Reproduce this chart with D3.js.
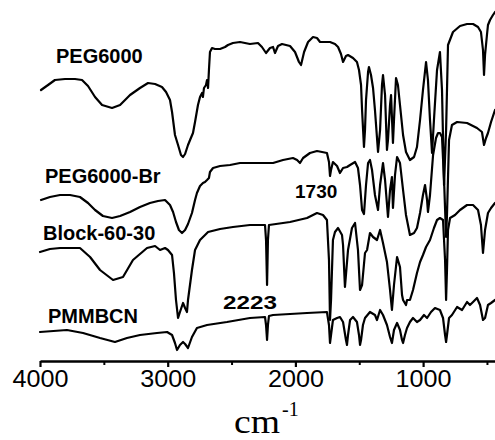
<!DOCTYPE html>
<html>
<head>
<meta charset="utf-8">
<script src="https://cdn.jsdelivr.net/npm/d3@7"></script>
<style>
  html, body { margin: 0; padding: 0; background: #fff; }
  svg { display: block; }
</style>
</head>
<body>
<svg id="chart" width="495" height="440"></svg>
<script>
// Wavenumber (cm-1) vs. transmittance (arbitrary offset units)
const peg6000 = [[3992,272],[3937,277],[3883,282],[3804,283],[3726,283],[3671,282],[3624,276],[3569,265],[3514,257],[3436,254],[3373,257],[3295,267],[3217,274],[3154,279],[3099,278],[3045,275],[3013,270],[2982,262],[2966,250],[2943,227],[2919,217],[2896,207],[2880,205],[2864,208],[2841,217],[2825,222],[2802,229],[2786,240],[2763,257],[2747,265],[2731,269],[2724,265],[2716,274],[2700,277],[2692,282],[2684,274],[2677,292],[2669,310],[2653,314],[2630,313],[2590,313],[2551,315],[2528,317],[2489,319],[2434,320],[2356,318],[2293,319],[2262,315],[2230,309],[2199,314],[2175,315],[2160,309],[2136,316],[2105,318],[2042,316],[2003,310],[1972,300],[1956,297],[1932,310],[1901,320],[1862,325],[1831,324],[1807,320],[1729,320],[1690,318],[1666,315],[1643,308],[1627,300],[1604,306],[1588,307],[1549,304],[1518,300],[1502,292],[1486,277],[1478,252],[1463,215],[1455,232],[1447,262],[1431,290],[1424,295],[1408,287],[1392,274],[1377,252],[1353,210],[1337,232],[1322,277],[1314,287],[1298,267],[1283,212],[1275,222],[1259,257],[1251,267],[1236,219],[1228,242],[1212,284],[1197,277],[1181,257],[1157,227],[1134,210],[1103,202],[1071,205],[1048,215],[1024,242],[1001,272],[977,300],[962,282],[946,242],[930,209],[915,242],[891,292],[868,310],[852,272],[836,177],[820,232],[805,317],[766,330],[711,336],[656,338],[609,338],[570,335],[547,330],[531,312],[523,287],[515,307],[500,327],[492,337],[476,342],[453,347],[437,350]];

const peg6000Br = [[3992,162],[3922,165],[3843,167],[3765,167],[3687,165],[3624,159],[3569,152],[3507,146],[3436,144],[3373,146],[3295,150],[3217,155],[3139,159],[3076,161],[3021,162],[2982,157],[2958,150],[2935,140],[2912,132],[2888,129],[2864,132],[2841,138],[2810,149],[2786,162],[2771,169],[2747,176],[2724,179],[2708,180],[2692,182],[2677,184],[2669,190],[2645,194],[2590,196],[2512,197],[2434,199],[2356,199],[2277,199],[2175,199],[2097,202],[2019,204],[1987,202],[1964,199],[1940,204],[1886,209],[1831,211],[1791,210],[1753,209],[1737,200],[1729,186],[1721,192],[1706,200],[1674,196],[1651,189],[1627,194],[1596,195],[1572,197],[1533,200],[1510,194],[1494,177],[1478,152],[1463,148],[1447,177],[1431,199],[1416,202],[1400,192],[1377,167],[1353,152],[1337,177],[1314,199],[1298,182],[1275,145],[1259,172],[1244,185],[1236,154],[1220,187],[1204,205],[1181,199],[1157,172],[1134,147],[1103,127],[1071,129],[1048,134],[1024,149],[1001,167],[985,177],[969,162],[962,150],[946,167],[922,207],[899,224],[883,229],[868,229],[852,225],[836,182],[820,125],[813,147],[797,222],[774,237],[734,240],[656,239],[578,234],[539,230],[523,217],[507,224],[492,229],[468,240],[437,252]];

const block6030 = [[4000,110],[3922,113],[3843,114],[3687,114],[3608,105],[3530,92],[3428,82],[3350,85],[3272,102],[3162,114],[3099,116],[3060,112],[3021,114],[2998,112],[2966,107],[2951,89],[2935,62],[2919,44],[2904,50],[2880,59],[2864,54],[2849,50],[2841,62],[2810,92],[2786,112],[2747,122],[2684,130],[2590,133],[2489,135],[2356,137],[2238,137],[2230,122],[2222,77],[2215,122],[2207,137],[2042,140],[1909,144],[1831,149],[1784,147],[1753,142],[1737,102],[1729,42],[1721,62],[1706,122],[1690,130],[1666,134],[1635,127],[1627,117],[1612,75],[1588,112],[1557,134],[1533,139],[1510,112],[1494,72],[1478,77],[1455,109],[1439,112],[1416,129],[1392,125],[1361,122],[1337,132],[1314,119],[1283,100],[1259,72],[1244,52],[1228,77],[1204,105],[1181,95],[1165,67],[1157,62],[1134,57],[1126,62],[1103,62],[1079,72],[1048,89],[1024,100],[1001,107],[977,115],[946,122],[915,134],[891,142],[868,144],[844,142],[828,102],[820,62],[813,92],[805,132],[789,144],[750,147],[711,152],[656,157],[609,157],[570,152],[547,137],[531,109],[515,132],[492,149],[468,154],[437,159]];

const pmmbcn = [[4000,30],[3789,32],[3663,29],[3530,24],[3413,20],[3319,24],[3217,27],[3084,29],[3005,30],[2966,27],[2943,19],[2927,12],[2904,17],[2880,20],[2864,18],[2841,14],[2810,25],[2771,34],[2692,37],[2536,40],[2356,44],[2238,45],[2230,37],[2222,22],[2215,37],[2207,46],[2175,47],[1909,49],[1753,50],[1737,37],[1729,19],[1721,27],[1706,42],[1674,44],[1651,45],[1627,40],[1604,22],[1596,17],[1588,27],[1572,42],[1549,45],[1518,40],[1502,27],[1494,17],[1486,22],[1471,37],[1455,44],[1416,50],[1377,47],[1361,42],[1337,52],[1314,47],[1283,37],[1259,25],[1244,19],[1228,32],[1204,39],[1181,32],[1165,22],[1157,19],[1142,27],[1126,34],[1103,40],[1079,44],[1048,40],[1024,42],[993,47],[969,44],[938,50],[907,54],[868,52],[844,44],[828,27],[820,20],[813,27],[797,44],[774,47],[734,55],[695,52],[656,60],[633,57],[609,60],[578,64],[554,57],[531,42],[515,44],[492,57],[468,59],[437,62]];

const seriesNames = ["PEG6000", "PEG6000-Br", "Block-60-30", "PMMBCN"];
const majorTicks = [4000, 3000, 2000, 1000];
const minorTicks = [3500, 2500, 1500, 500];
const peakLabels = ["1730", "2223"];
const axisTitle = "cm";
const axisTitleSup = "-1";

const svg = d3.select("#chart");
svg.append("rect").attr("width", 495).attr("height", 440).attr("fill", "#fff");

const x = d3.scaleLinear().domain([4000, 437]).range([40, 495]);
const y = d3.scaleLinear().domain([0, 362]).range([362, 0]);

const line = d3.line().x(d => x(d[0])).y(d => y(d[1]));

[peg6000, peg6000Br, block6030, pmmbcn].forEach(s => {
  svg.append("path")
    .datum(s)
    .attr("d", line)
    .attr("fill", "none")
    .attr("stroke", "#000")
    .attr("stroke-width", 2.2)
    .attr("stroke-linejoin", "round")
    .attr("stroke-linecap", "round");
});

// axis
const axisY = 361;
const gMinor = svg.append("g").attr("transform", `translate(0,${axisY})`)
  .call(d3.axisBottom(x).tickValues(minorTicks).tickSize(4).tickSizeOuter(0).tickFormat(""));
gMinor.select(".domain").remove();
gMinor.selectAll(".tick line").attr("stroke", "#000").attr("stroke-width", 2);

const gMajor = svg.append("g").attr("transform", `translate(0,${axisY})`)
  .call(d3.axisBottom(x).tickValues(majorTicks).tickSize(6).tickSizeOuter(0).tickPadding(3).tickFormat(d3.format("d")));
gMajor.select(".domain").attr("stroke", "#000").attr("stroke-width", 2.6);
gMajor.selectAll(".tick line").attr("stroke", "#000").attr("stroke-width", 2.2);
gMajor.selectAll(".tick text")
  .attr("fill", "#000")
  .style("font-family", "'Liberation Sans', Arial, sans-serif")
  .style("font-size", "24px")
  .attr("textLength", 56)
  .attr("lengthAdjust", "spacingAndGlyphs");

// axis title
svg.append("text").attr("x", 234).attr("y", 433)
  .style("font-family", "'Liberation Serif', 'Times New Roman', serif")
  .style("font-size", "33px").attr("fill", "#000")
  .attr("textLength", 46).attr("lengthAdjust", "spacingAndGlyphs")
  .text(axisTitle);
svg.append("text").attr("x", 282).attr("y", 416)
  .style("font-family", "'Liberation Serif', 'Times New Roman', serif")
  .style("font-size", "20px").attr("fill", "#000").text(axisTitleSup);

// series labels
const labelPos = [[56, 63], [45, 183], [43, 240], [48, 323]];
seriesNames.forEach((n, i) => {
  svg.append("text").attr("x", labelPos[i][0]).attr("y", labelPos[i][1])
    .style("font-family", "'Liberation Sans', Arial, sans-serif")
    .style("font-weight", "bold").style("font-size", "20px")
    .attr("fill", "#000").text(n);
});

// peak annotations
svg.append("text").attr("x", 295).attr("y", 198)
  .style("font-family", "'Liberation Sans', Arial, sans-serif")
  .style("font-weight", "bold").style("font-size", "19px")
  .attr("fill", "#000").text(peakLabels[0]);
svg.append("text").attr("x", 223).attr("y", 309)
  .style("font-family", "'Liberation Sans', Arial, sans-serif")
  .style("font-weight", "bold").style("font-size", "18px")
  .attr("textLength", 54).attr("lengthAdjust", "spacingAndGlyphs")
  .attr("fill", "#000").text(peakLabels[1]);
</script>
</body>
</html>
